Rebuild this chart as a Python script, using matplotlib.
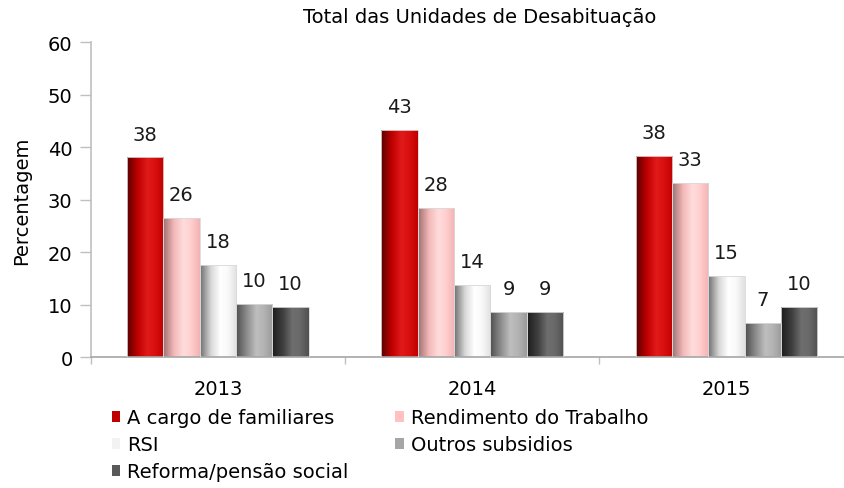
#!/usr/bin/env python3

import numpy as np
from matplotlib import pyplot as plt
from matplotlib.colors import LinearSegmentedColormap
from matplotlib.patches import Patch

years = ['2013', '2014', '2015']
series = ['A cargo de familiares', 'Rendimento do Trabalho', 'RSI',
          'Outros subsidios', 'Reforma/pensão social']

familiares = [38.1, 43.3, 38.4]
trabalho = [26.5, 28.4, 33.3]
rsi = [17.7, 13.8, 15.5]
outros = [10.2, 8.6, 6.6]
reforma = [9.6, 8.6, 9.6]
values = [familiares, trabalho, rsi, outros, reforma]
labels = [[38, 43, 38], [26, 28, 33], [18, 14, 15], [10, 9, 7], [10, 9, 10]]

legend_colors = ['#C00000', '#FFC1C1', '#F2F2F2', '#A6A6A6', '#595959']
gradients = [
  ['#5A0000', '#C00000', '#E01A1A', '#DA1010', '#C00000'],
  ['#9C7070', '#F4B8B8', '#FFDCDC', '#FFD0D0', '#F2B2B2'],
  ['#6E6E6E', '#D8D8D8', '#FFFFFF', '#FAFAFA', '#E0E0E0'],
  ['#4E4E4E', '#8E8E8E', '#BEBEBE', '#B4B4B4', '#9A9A9A'],
  ['#1C1C1C', '#404040', '#6E6E6E', '#6A6A6A', '#505050'],
]
stops = [0.0, 0.3, 0.55, 0.75, 1.0]

plt.rcParams['font.family'] = ['DejaVu Sans']
fig = plt.figure(figsize=(8.45, 4.89), dpi=100)
ax = fig.add_axes([0.1073, 0.2669, 0.9029, 0.6442])

x = np.arange(len(years))
width = 0.143
grad = np.linspace(0, 1, 256).reshape(1, -1)

for i, (vals, name) in enumerate(zip(values, series)):
  cmap = LinearSegmentedColormap.from_list(name, list(zip(stops, gradients[i])))
  bars = ax.bar(x + (i - 2) * width, vals, width, color='none',
                edgecolor='none', label=name, zorder=2)
  for b, lab in zip(bars, labels[i]):
    x0, y0 = b.get_x(), b.get_y()
    w, h = b.get_width(), b.get_height()
    im = ax.imshow(grad, cmap=cmap, aspect='auto', extent=(x0, x0 + w, y0, y0 + h),
                   interpolation='bilinear', zorder=2)
    im.set_clip_path(b)
    ax.add_patch(plt.Rectangle((x0, y0), w, h, fill=False, edgecolor='#D9D9D9',
                               linewidth=0.6, zorder=3))
    ax.annotate(str(lab), (x0 + w / 2, y0 + h), xytext=(0, 10),
                textcoords='offset points', ha='center', va='bottom',
                fontsize=14, color='#1a1a1a')

ax.set_xlim(-0.5, 2.5)
ax.set_ylim(0, 60)
ax.set_yticks(range(0, 61, 10))
ax.set_xticks(x)
ax.set_xticklabels(years)
ax.set_xticks([-0.5, 0.5, 1.5, 2.5], minor=True)
ax.tick_params(axis='x', which='major', length=0, pad=15.5, labelsize=14)
ax.tick_params(axis='x', which='minor', length=5, color='#BFBFBF', width=1)
ax.tick_params(axis='y', length=8, pad=5, color='#BFBFBF', width=1, labelsize=14)

for s in ['top', 'right']:
  ax.spines[s].set_visible(False)
ax.spines['left'].set_color('#BFBFBF')
ax.spines['bottom'].set_color('#A6A6A6')
ax.spines['left'].set_linewidth(1.2)
ax.spines['bottom'].set_linewidth(1.2)

ax.set_ylabel('Percentagem', fontsize=14)
ax.yaxis.set_label_coords(-0.078, 0.5)

fig.text(0.568, 0.965, 'Total das Unidades de Desabituação', ha='center',
         va='center', fontsize=14)

handles = [Patch(facecolor=c, edgecolor='none') for c in legend_colors]
order = [0, 2, 4, 1, 3]
fig.legend([handles[k] for k in order], [series[k] for k in order], ncol=2,
           loc='upper left', bbox_to_anchor=(0.132, 0.163), frameon=False,
           fontsize=14, handlelength=0.45, handleheight=0.45, handletextpad=0.35,
           labelspacing=0.41, columnspacing=2.4, borderaxespad=0, borderpad=0)

fig.savefig('out.png', dpi=100)
